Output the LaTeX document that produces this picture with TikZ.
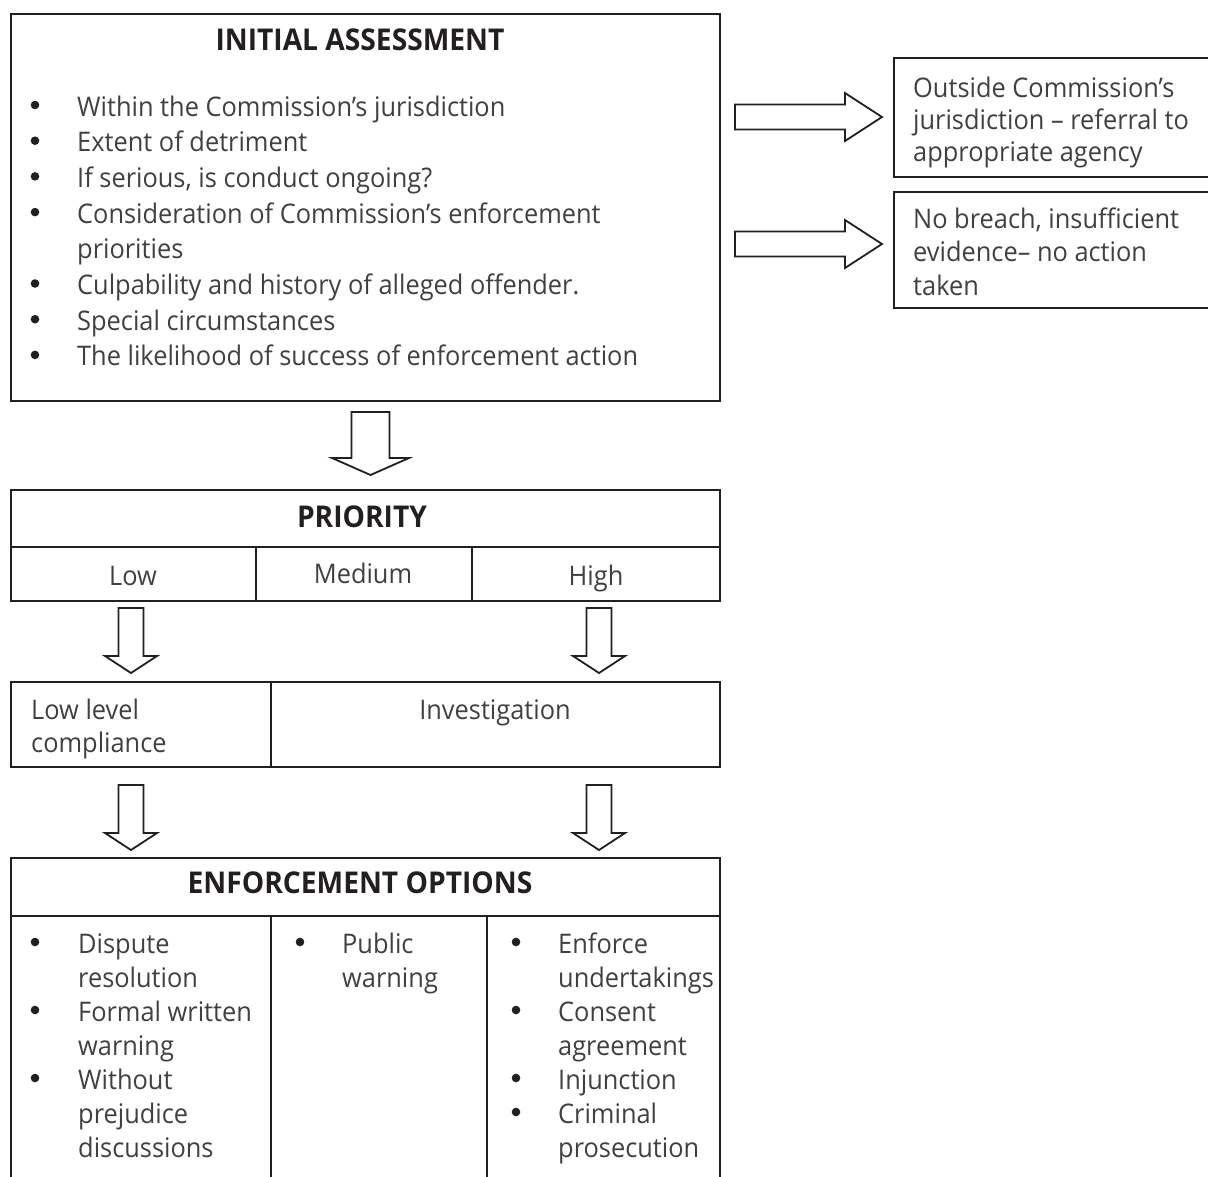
\documentclass[tikz,border=0pt]{standalone}
\usepackage{fontspec}
\setmainfont{Open Sans}[FakeStretch=0.94]
\usepackage{array}
\definecolor{ink}{HTML}{231F20}
\definecolor{txt}{HTML}{404040}

% block arrow pointing down: centre x, top y, tip y, half shaft, half head, head length
\newcommand\arrowdown[6]{%
  \draw[blockarrow] ({#1-#4},#2) -- ({#1+#4},#2) -- ({#1+#4},{#3-#6}) -- ({#1+#5},{#3-#6})
    -- (#1,#3) -- ({#1-#5},{#3-#6}) -- ({#1-#4},{#3-#6}) -- cycle;}
% block arrow pointing right: start x, tip x, centre y, half shaft, half head, head length
\newcommand\arrowright[6]{%
  \draw[blockarrow] (#1,{#3-#4}) -- ({#2-#6},{#3-#4}) -- ({#2-#6},{#3-#5}) -- (#2,#3)
    -- ({#2-#6},{#3+#5}) -- ({#2-#6},{#3+#4}) -- (#1,{#3+#4}) -- cycle;}

\tikzset{
  frame/.style={draw=ink, line width=2pt},
  box/.style={frame, rectangle, anchor=north west, inner sep=0pt},
  blockarrow/.style={draw=ink, line width=1.8pt, fill=white, line join=miter},
  body/.style={inner sep=0pt, text=txt, anchor=base west},
  cell/.style={inner sep=0pt, text=txt, anchor=base, font=\fontsize{27}{34}\selectfont},
  head/.style={inner sep=0pt, text=ink, anchor=base, font=\fontsize{30}{36}\selectfont\bfseries},
  listdot/.style={fill=ink},
}

\begin{document}
\begin{tikzpicture}[x=1pt, y=-1pt]
\useasboundingbox (0,0) rectangle (1208,1176);
\clip (0,0) rectangle (1208,1176);

% ---- initial assessment ----
\node[box, minimum width=709pt, minimum height=387.5pt] (ia) at (10,12.5) {};
\node[head] (iatitle) at (360,50) {INITIAL ASSESSMENT};
\node[body, font=\fontsize{27}{35.7}\selectfont] (ialist) at (77,116) {%
\begin{tabular}[t]{@{}l@{}}
Within the Commission’s jurisdiction\\
Extent of detriment\\
If serious, is conduct ongoing?\\
Consideration of Commission’s enforcement\\
priorities\\
Culpability and history of alleged offender.\\
Special circumstances\\
The likelihood of success of enforcement action
\end{tabular}};
\foreach \b in {116,151.7,187.4,223.1,294.5,330.2,365.9}
  \fill[listdot] (35,{\b-11}) circle (4.3pt);

% ---- outcomes on the right ----
\node[box, minimum width=322pt, minimum height=119pt] (out1) at (893,57) {};
\node[body, font=\fontsize{27}{32}\selectfont] (out1txt) at (913,97) {%
\begin{tabular}[t]{@{}l@{}}
Outside Commission’s\\
jurisdiction – referral to\\
appropriate agency
\end{tabular}};
\node[box, minimum width=322pt, minimum height=116pt] (out2) at (893,191) {};
\node[body, font=\fontsize{27}{33.5}\selectfont] (out2txt) at (913,228) {%
\begin{tabular}[t]{@{}l@{}}
No breach, insufficient\\
evidence– no action\\
taken
\end{tabular}};
\arrowright{735}{882}{117}{12.5}{24}{37}
\arrowright{735}{882}{244}{12.5}{24}{37}

% ---- priority ----
\arrowdown{370.5}{412}{475}{19}{38.5}{17}
\node[box, minimum width=709pt, minimum height=111pt] (prio) at (10,489) {};
\draw[frame] (10,547) -- (719,547);
\draw[frame] (256,547) -- (256,600);
\draw[frame] (472,547) -- (472,600);
\node[head] (priotitle) at (362,527) {PRIORITY};
\node[cell] (low) at (133,585) {Low};
\node[cell] (medium) at (363,583) {Medium};
\node[cell] (high) at (596,585) {High};

% ---- response track ----
\arrowdown{131}{608}{673}{12.5}{26}{17}
\arrowdown{599}{608}{673}{12.5}{26}{17}
\node[box, minimum width=709pt, minimum height=85pt] (track) at (10,681) {};
\draw[frame] (271,681) -- (271,766);
\node[body, font=\fontsize{27}{33}\selectfont] (lowlevel) at (31,719) {%
\begin{tabular}[t]{@{}l@{}}
Low level\\
compliance
\end{tabular}};
\node[cell] (investigation) at (495,719) {Investigation};

% ---- enforcement options ----
\arrowdown{131}{785}{850}{12.5}{26}{17}
\arrowdown{599}{785}{850}{12.5}{26}{17}
\node[box, minimum width=709pt, minimum height=340pt] (enf) at (10,857) {};
\draw[frame] (10,916) -- (719,916);
\draw[frame] (271,916) -- (271,1196);
\draw[frame] (487,916) -- (487,1196);
\node[head] (enftitle) at (360,893) {ENFORCEMENT OPTIONS};
\node[body, font=\fontsize{27}{34}\selectfont] (enfa) at (78,953) {%
\begin{tabular}[t]{@{}l@{}}
Dispute\\
resolution\\
Formal written\\
warning\\
Without\\
prejudice\\
discussions
\end{tabular}};
\foreach \b in {953,1021,1089}
  \fill[listdot] (35,{\b-11}) circle (4.3pt);
\node[body, font=\fontsize{27}{34}\selectfont] (enfb) at (342,953) {%
\begin{tabular}[t]{@{}l@{}}
Public\\
warning
\end{tabular}};
\fill[listdot] (300,942) circle (4.3pt);
\node[body, font=\fontsize{27}{34}\selectfont] (enfc) at (558,953) {%
\begin{tabular}[t]{@{}l@{}}
Enforce\\
undertakings\\
Consent\\
agreement\\
Injunction\\
Criminal\\
prosecution
\end{tabular}};
\foreach \b in {953,1021,1089,1123}
  \fill[listdot] (516,{\b-11}) circle (4.3pt);
\end{tikzpicture}
\end{document}
